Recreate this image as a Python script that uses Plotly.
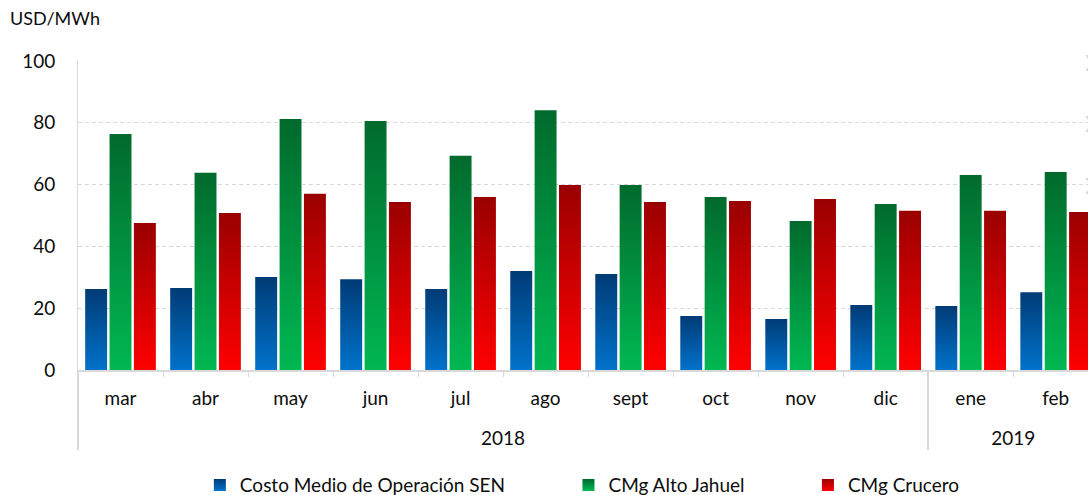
import plotly.graph_objects as go

years = ["2018"] * 10 + ["2019"] * 2
months = ["mar", "abr", "may", "jun", "jul", "ago", "sept", "oct", "nov", "dic", "ene", "feb"]

costo_medio = [26.2, 26.5, 30.1, 29.4, 26.2, 32.0, 31.1, 17.5, 16.5, 21.0, 20.7, 25.2]
cmg_alto_jahuel = [76.4, 63.8, 81.2, 80.6, 69.3, 84.1, 59.9, 56.0, 48.2, 53.7, 63.1, 64.1]
cmg_crucero = [47.6, 50.8, 57.0, 54.4, 56.0, 59.9, 54.4, 54.7, 55.3, 51.5, 51.5, 51.1]

series_names = ["Costo Medio de Operación SEN", "CMg Alto Jahuel", "CMg Crucero"]
series_values = [costo_medio, cmg_alto_jahuel, cmg_crucero]
series_colors = ["#0057A0", "#008E3E", "#D00000"]

chevron_levels = [100, 80, 60]

# year labels drawn one line lower (visual spacing of the second category level)
year_display = ["<br>" + y for y in years]

NB = "\u00a0"
pads = [12, 12, 0]

FONT = "Lato"
TXT = "#0d0d0d"
GRID = "#D9D9D9"
FS = 19

fig = go.Figure()
for name, vals, col, pad in zip(series_names, series_values, series_colors, pads):
    fig.add_trace(go.Bar(
        x=[year_display, months], y=vals, name=name + NB * pad,
        marker=dict(color=col, line=dict(width=0)),
    ))

annotations = [dict(text="USD/MWh", xref="paper", yref="paper", x=0, y=1,
                    xshift=-70, yshift=43, xanchor="left", yanchor="middle",
                    showarrow=False, font=dict(family=FONT, size=18, color=TXT))]
for lv in chevron_levels:
    annotations.append(dict(text="❯", xref="paper", yref="y", x=1, y=lv,
                            xanchor="left", yanchor="middle", xshift=-7,
                            showarrow=False, font=dict(family="DejaVu Sans", size=16, color=GRID)))

fig.update_layout(
    width=1088, height=495,
    margin=dict(l=78, r=0, t=61, b=125, autoexpand=False),
    paper_bgcolor="white", plot_bgcolor="white",
    barmode="group", bargap=0.14, bargroupgap=0.1,
    font=dict(family=FONT, size=FS, color=TXT),
    showlegend=True,
    legend=dict(orientation="h", xref="container", yref="container",
                x=0.1837, xanchor="left", y=0.02, yanchor="middle",
                font=dict(family=FONT, size=FS, color=TXT), bgcolor="rgba(0,0,0,0)",
                traceorder="normal"),
    annotations=annotations,
)

fig.update_xaxes(
    type="multicategory", range=[-0.5, 11.38], automargin=False,
    showline=True, linecolor=GRID, linewidth=2,
    ticks="outside", ticklen=5, tickcolor=GRID,
    showdividers=True, dividercolor=GRID, dividerwidth=1.5,
    ticklabelstandoff=10,
    tickfont=dict(family=FONT, size=FS, color=TXT),
    showgrid=False,
)
fig.update_yaxes(
    range=[0, 100], dtick=20, tick0=0, automargin=False,
    showgrid=True, gridcolor=GRID, griddash="4px,3px", gridwidth=1,
    zeroline=False, showline=True, linecolor=GRID, linewidth=1,
    ticks="", ticklabelstandoff=18,
    tickfont=dict(family=FONT, size=FS, color=TXT),
)

post = """
document.body.style.margin = '0';
document.body.style.overflow = 'hidden';
var gd = document.getElementById('{plot_id}');
function applyGrad(){
  var ns = 'http://www.w3.org/2000/svg';
  var svg = gd.querySelector('svg.main-svg');
  var defs = svg.querySelector('defs');
  if (!defs) { defs = document.createElementNS(ns, 'defs'); svg.insertBefore(defs, svg.firstChild); }
  var cols = [['#003B76', '#0072CA'], ['#006A2C', '#00B852'], ['#9A0000', '#FF0000']];
  cols.forEach(function(c, i){
    if (document.getElementById('bgrad' + i)) return;
    var g = document.createElementNS(ns, 'linearGradient');
    g.setAttribute('id', 'bgrad' + i);
    g.setAttribute('x1', '0'); g.setAttribute('y1', '0');
    g.setAttribute('x2', '0'); g.setAttribute('y2', '1');
    [[0, c[0]], [1, c[1]]].forEach(function(s){
      var st = document.createElementNS(ns, 'stop');
      st.setAttribute('offset', s[0]);
      st.setAttribute('stop-color', s[1]);
      g.appendChild(st);
    });
    defs.appendChild(g);
  });
  gd.querySelectorAll('.barlayer .trace').forEach(function(t, i){
    t.querySelectorAll('path').forEach(function(p){ p.style.fill = 'url(#bgrad' + i + ')'; });
  });
  gd.querySelectorAll('.legend .traces').forEach(function(t, i){
    t.querySelectorAll('.legendpoints path').forEach(function(p){ p.style.fill = 'url(#bgrad' + i + ')'; p.style.stroke = 'none'; });
  });
}
applyGrad();
gd.on('plotly_afterplot', applyGrad);
"""

fig.write_html("out.html", post_script=post, config={"displayModeBar": False})
